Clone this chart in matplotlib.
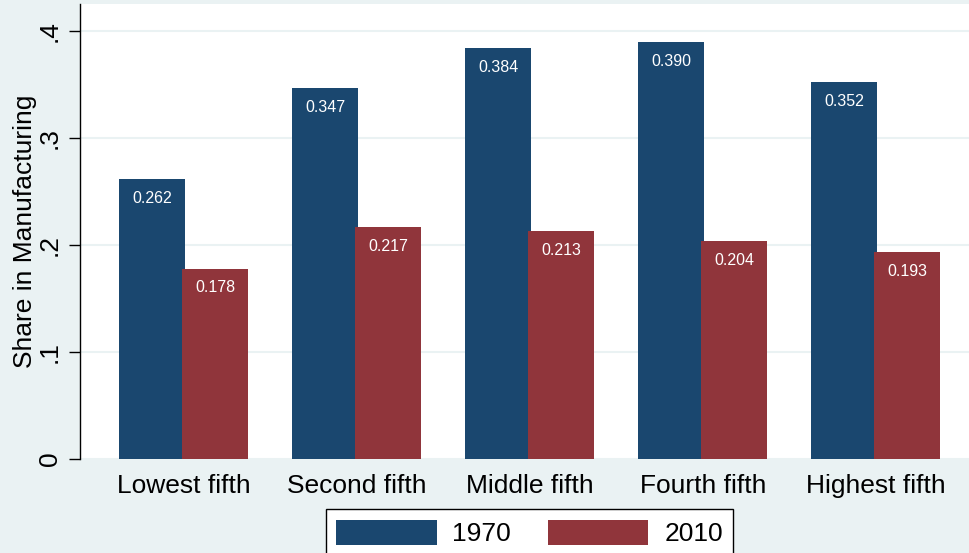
import matplotlib
matplotlib.use("Agg")
import matplotlib.pyplot as plt
import numpy as np

categories = ["Lowest fifth", "Second fifth", "Middle fifth", "Fourth fifth", "Highest fifth"]
share_1970 = [0.262, 0.347, 0.384, 0.390, 0.352]
share_2010 = [0.178, 0.217, 0.213, 0.204, 0.193]
series_labels = ["1970", "2010"]
yticks = [0, 0.1, 0.2, 0.3, 0.4]
ytick_labels = ["0", ".1", ".2", ".3", ".4"]

plt.rcParams['font.family'] = ['Liberation Sans', 'DejaVu Sans']

BG = "#EAF2F3"
BLUE = "#1A476F"
RED = "#90353B"

W, H = 969, 553
fig = plt.figure(figsize=(W / 100, H / 100), dpi=100, facecolor=BG)
ax = fig.add_axes([80 / W, 1 - 459 / H, 1 - 80 / W, (459 - 4) / H])
ax.set_facecolor("white")

x = np.arange(len(categories))
width = 0.381
off = 0.182
b1 = ax.bar(x - off, share_1970, width, color=BLUE, label=series_labels[0], zorder=2)
b2 = ax.bar(x + off, share_2010, width, color=RED, label=series_labels[1], zorder=3)

for bars, vals in ((b1, share_1970), (b2, share_2010)):
    for rect, v in zip(bars, vals):
        ax.annotate(f"{v:.3f}", (rect.get_x() + rect.get_width() / 2, v),
                    xytext=(0, -14), textcoords="offset points",
                    ha="center", va="center", color="white", fontsize=11.5, zorder=4)

ax.set_xlim(-0.598, 4.538)
ax.set_ylim(0, 0.4252)
ax.set_yticks(yticks)
ax.set_yticklabels(ytick_labels, rotation=90, va="center", fontsize=19)
ax.set_xticks(x)
ax.set_xticklabels(categories, fontsize=19)
ax.tick_params(axis="x", length=0, pad=11)
ax.tick_params(axis="y", length=8, width=1, pad=5, color="black")
ax.set_ylabel("Share in Manufacturing", fontsize=19, labelpad=1)

for s in ("top", "right", "bottom"):
    ax.spines[s].set_visible(False)
ax.spines["left"].set_linewidth(1)
ax.yaxis.grid(True, color=BG, linewidth=1.5, zorder=0)
ax.set_axisbelow(True)

leg = fig.legend(handles=[b1, b2], labels=series_labels, loc="upper center",
                 bbox_to_anchor=(529.5 / W, 1 - 509 / H), ncol=2, fontsize=19,
                 frameon=True, fancybox=False, edgecolor="black", facecolor="white",
                 handlelength=3.8, handleheight=1.08, handletextpad=0.6,
                 columnspacing=1.4, borderpad=0.4, borderaxespad=0, framealpha=1)
leg.get_frame().set_linewidth(1)

fig.savefig("out.png", dpi=100, facecolor=BG)
